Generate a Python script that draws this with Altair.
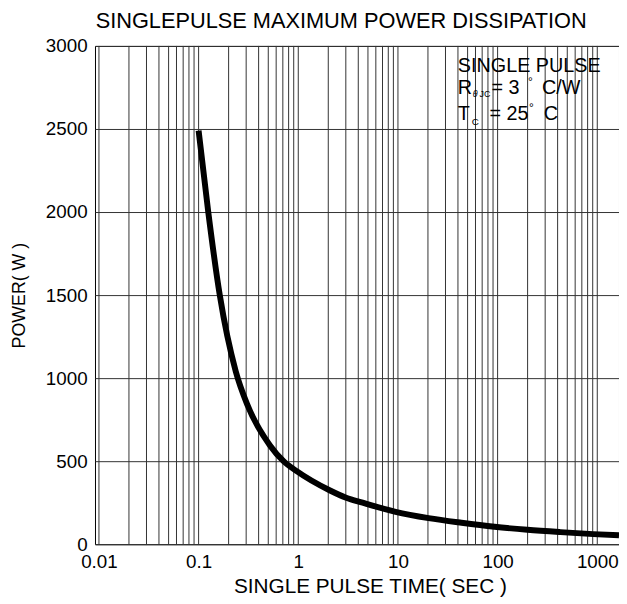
import altair as alt
import pandas as pd

FONT = "Liberation Sans"

# Curve (pulse time in s, power in W)
pulse_time = [0.1, 0.125, 0.163, 0.236, 0.308, 0.52, 0.711, 0.964, 2.06, 3.02,
              4.42, 9.47, 20.3, 43.5, 93, 199, 427, 912, 1652]
power_w = [2490, 2000, 1500, 1040, 840, 595, 500, 440, 325, 280,
           250, 195, 157, 129, 105, 87, 73, 61, 54]

# Axis ticks
x_labels = [0.01, 0.1, 1, 10, 100, 1000]
y_ticks = [0, 500, 1000, 1500, 2000, 2500, 3000]
x_grid = [m * d for d in [0.01, 0.1, 1, 10, 100] for m in range(1, 10)] + [1000]

curve = pd.DataFrame({"t": pulse_time, "p": power_w})
grid = pd.DataFrame({"t": x_grid})

xscale = alt.Scale(type="log", domain=[0.00913, 1652], nice=False)
xaxis = alt.Axis(values=x_labels, format="~g", grid=False, ticks=False, domain=False,
                 labelFontSize=19, labelFont=FONT, labelColor="black", labelPadding=9,
                 labelFlush=False, labelOverlap=False,
                 title="SINGLE PULSE TIME( SEC )", titleFontSize=21, titleFont=FONT,
                 titleFontWeight="normal", titleColor="black",
                 titleX=278, titleY=43, titleAlign="center", titleBaseline="middle")
yaxis = alt.Axis(values=y_ticks, format="d", grid=True, gridColor="#333", gridWidth=1,
                 ticks=False, domain=False, labelFontSize=19, labelFont=FONT,
                 labelColor="black", labelPadding=8, labelFlush=False,
                 title="POWER( W )", titleFontSize=18, titleFont=FONT,
                 titleFontWeight="normal", titleColor="black", titleAngle=270,
                 titleX=-76, titleY=252, titleAlign="center", titleBaseline="middle")

vgrid = alt.Chart(grid).mark_rule(color="#333", strokeWidth=1).encode(
    x=alt.X("t:Q", scale=xscale, axis=xaxis, title="SINGLE PULSE TIME( SEC )")
)

line = alt.Chart(curve).mark_line(color="black", strokeWidth=6, interpolate="monotone",
                                  clip=True).encode(
    x=alt.X("t:Q", scale=xscale, axis=xaxis, title="SINGLE PULSE TIME( SEC )"),
    y=alt.Y("p:Q", scale=alt.Scale(domain=[0, 3000], nice=False), axis=yaxis,
            title="POWER( W )"),
)


def label(txt, x, y, size=20, style="normal"):
    return alt.Chart(alt.Data(values=[{}])).mark_text(
        text=txt, align="left", baseline="alphabetic", fontSize=size, font=FONT,
        fontStyle=style, color="black"
    ).encode(x=alt.value(x), y=alt.value(y))


notes = [
    label("SINGLE PULSE", 367, 26),
    label("R", 367, 49),
    label("θ", 382, 52, 9, "italic"),
    label("JC", 389, 52, 9),
    label("= 3", 401, 49),
    label("°", 438, 41, 12),
    label("C/W", 452, 49),
    label("T", 367, 75),
    label("C", 381, 80, 10),
    label("= 25", 399, 75),
    label("°", 439, 67, 12),
    label("C", 454, 75),
]

chart = alt.layer(vgrid, line, *notes).properties(
    width=530, height=504,
    title=alt.TitleParams("SINGLEPULSE MAXIMUM POWER DISSIPATION", fontSize=22, font=FONT,
                          fontWeight="normal", color="black", anchor="middle",
                          dx=-16, offset=4),
    autosize=alt.AutoSizeParams(type="none"),
    padding={"left": 88, "top": 35, "right": 0, "bottom": 50},
).configure_view(stroke="black", strokeWidth=1)

chart.save("out.html", embed_options={"renderer": "svg", "actions": False})
